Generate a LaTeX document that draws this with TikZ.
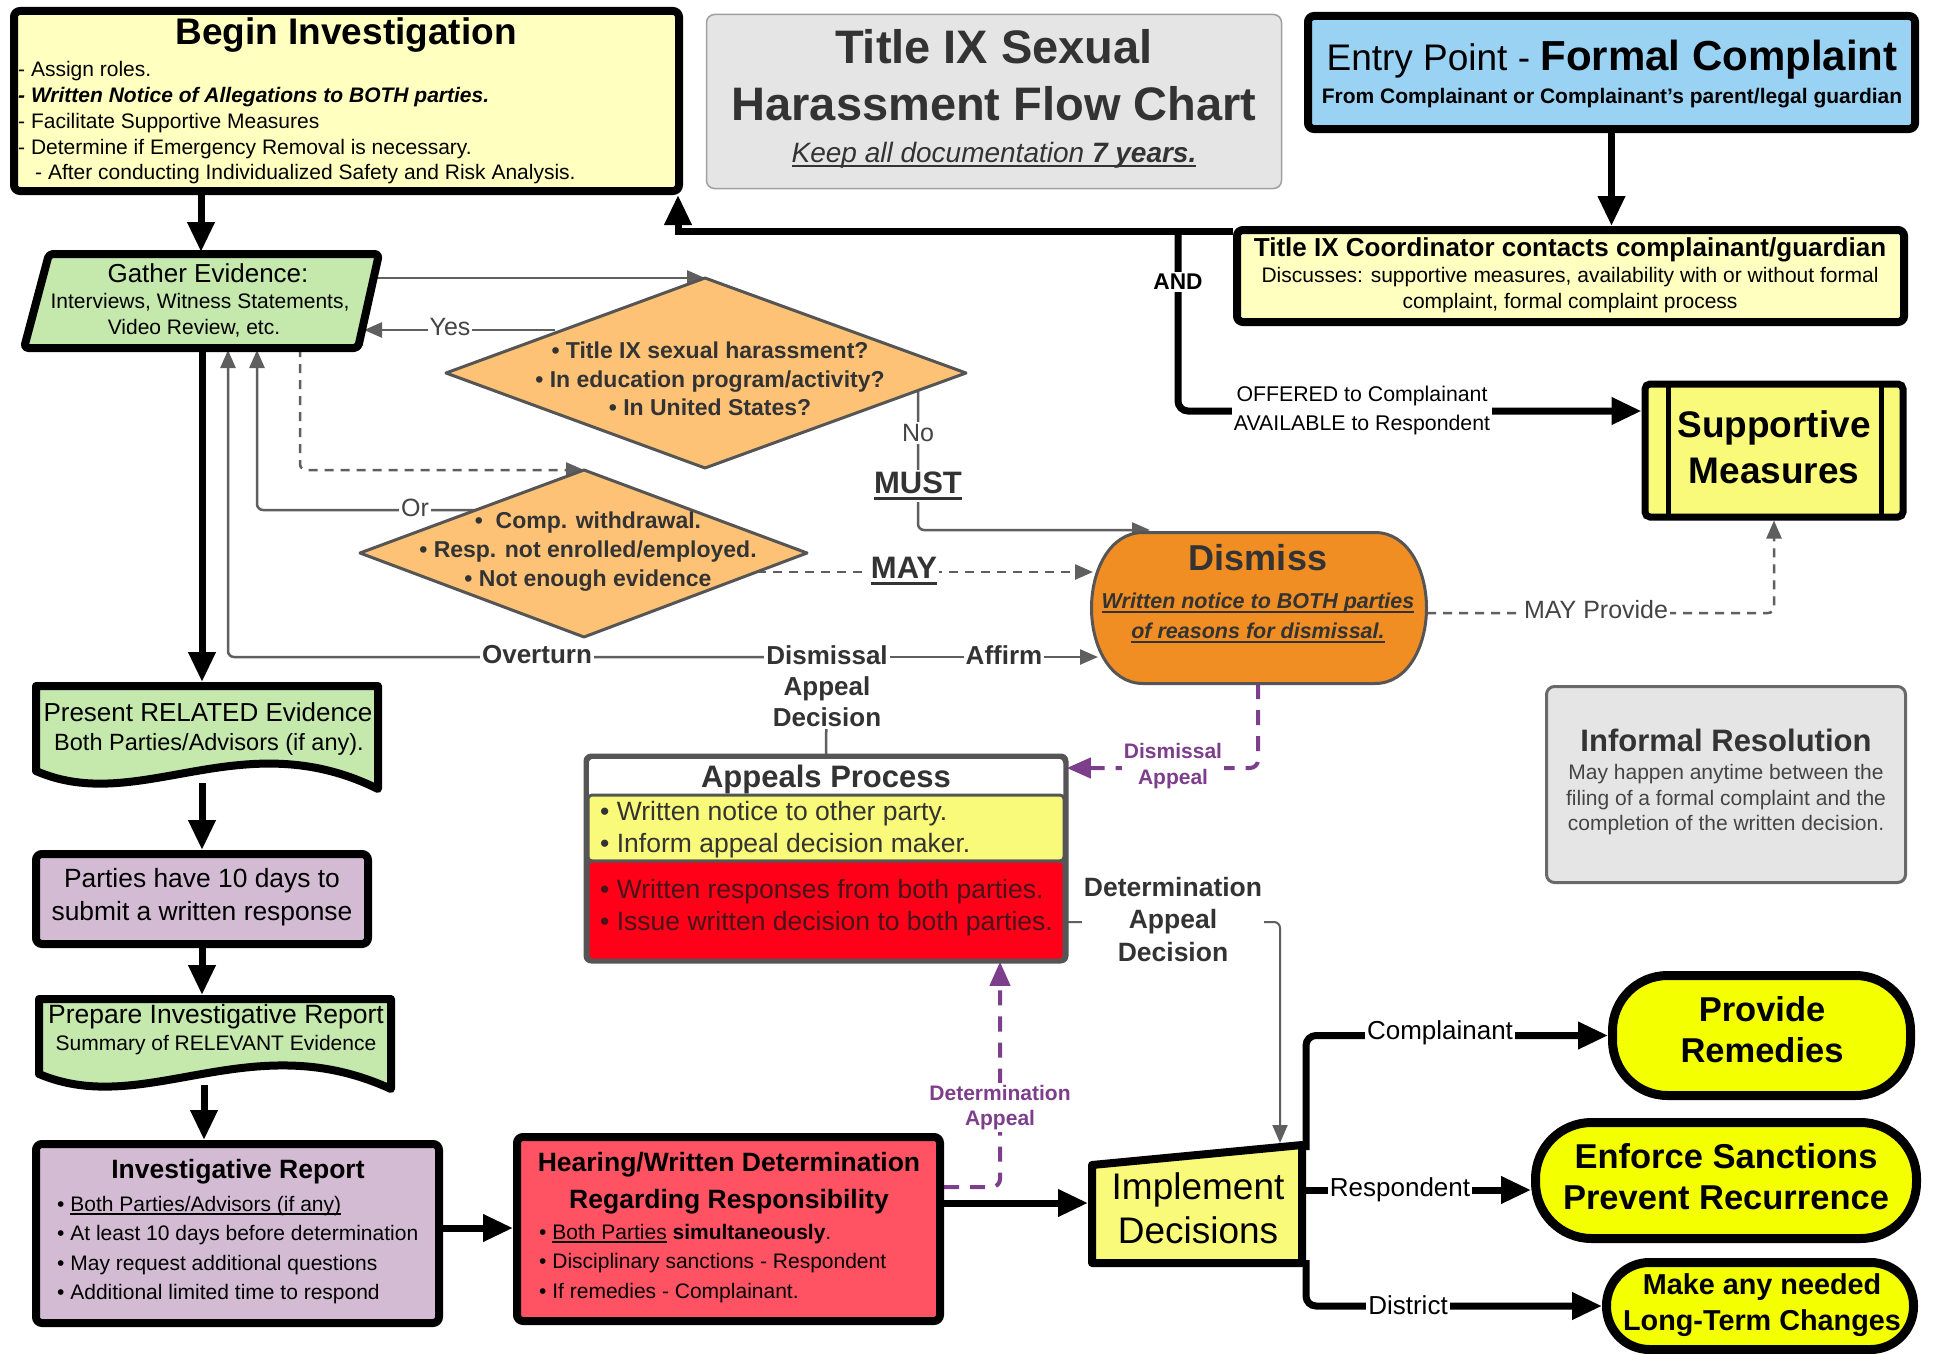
\documentclass[tikz,border=0pt]{standalone}
\usepackage{fontspec}
\setmainfont{Liberation Sans}
\usetikzlibrary{arrows.meta}
\definecolor{byellow}{RGB}{255,255,192}
\definecolor{tgray}{RGB}{229,229,229}
\definecolor{tborder}{RGB}{160,160,160}
\definecolor{eblue}{RGB}{153,210,243}
\definecolor{lgreen}{RGB}{197,232,173}
\definecolor{dorange}{RGB}{253,194,117}
\definecolor{dorg}{RGB}{240,141,35}
\definecolor{lyellow}{RGB}{250,250,122}
\definecolor{ared}{RGB}{255,0,24}
\definecolor{hred}{RGB}{255,82,99}
\definecolor{lav}{RGB}{211,188,211}
\definecolor{byel}{RGB}{244,255,0}
\definecolor{purp}{RGB}{125,62,140}
\definecolor{gline}{RGB}{95,95,95}
\definecolor{dgray}{RGB}{85,85,85}
\definecolor{igray}{RGB}{105,105,105}
\definecolor{dtext}{RGB}{51,51,51}
\definecolor{itext}{RGB}{68,68,68}
\definecolor{rtext}{RGB}{70,20,25}
\newcommand\fsz[2]{\fontsize{#1}{#2}\selectfont}
\newsavebox\myulbox
\newcommand\myul[2]{\leavevmode\sbox\myulbox{#2}\rlap{\rule[\dimexpr-0.09em-#1\relax]{\wd\myulbox}{#1}}\usebox\myulbox}
\pgfdeclarelayer{back}
\pgfdeclarelayer{bg}
\pgfsetlayers{back,bg,main}
\tikzset{
  boxk/.style={draw=black, line width=8pt, rounded corners=6pt, inner sep=0pt},
  txt/.style={inner sep=0pt, align=center},
  shp/.style={line width=8pt, line join=round},
  thk/.style={line width=7pt, -{Triangle[length=30pt,width=26pt]}},
  gar/.style={draw=gline, line width=2.5pt, -{Triangle[length=18pt,width=15pt]}},
  gdash/.style={gar, dash pattern=on 9pt off 7pt},
  parr/.style={draw=purp, line width=4pt, dash pattern=on 15pt off 11pt, -{Triangle[length=24pt,width=20pt]}},
  lab/.style={fill=white, inner sep=2pt, align=center},
}
\begin{document}
\begin{tikzpicture}[x=1pt,y=-1pt]
\begin{pgfonlayer}{back}
\fill[white] (0,0) rectangle (1935,1354);
\end{pgfonlayer}
\useasboundingbox (0,0) rectangle (1935,1354);

% ---------- Begin Investigation
\node[boxk, fill=byellow, minimum width=665pt, minimum height=180pt] (begin) at (346.5,101) {};
\node[txt, font=\bfseries\fsz{37}{40}] (beginT) at (346,35) {Begin Investigation};
\node[txt, align=left, anchor=west, font=\fsz{21}{25.75}] (beginB) at (18,123)
 {- Assign roles.\\ \textbf{\textit{- Written Notice of Allegations to BOTH parties.}}\\ - Facilitate Supportive Measures\\ - Determine if Emergency Removal is necessary.\\ \hspace*{17pt}- After conducting Individualized Safety and Risk Analysis.};

% ---------- Title
\node[draw=tborder, line width=1.5pt, fill=tgray, rounded corners=8pt, minimum width=575pt, minimum height=174pt] (title) at (994,101.5) {};
\node[txt, text=dtext, font=\bfseries\fsz{47}{57}] (titleT) at (994,75.5) {Title IX Sexual\\Harassment Flow Chart};
\node[txt, text=dtext, font=\itshape\fsz{28}{32}] (titleK) at (994,155) {\myul{2.2pt}{Keep all documentation \textbf{7 years.}}};

% ---------- Entry point
\node[boxk, fill=eblue, minimum width=607pt, minimum height=113pt] (entry) at (1611.5,72.5) {};
\node[txt, font=\fsz{37}{40}] (entryT) at (1612,60) {Entry Point - \textbf{\fsz{42}{44}Formal Complaint}};
\node[txt, font=\bfseries\fsz{21}{24}] (entryS) at (1612,98.5) {From Complainant or Complainant's parent/legal guardian};

% ---------- Coordinator
\node[boxk, fill=byellow, minimum width=667pt, minimum height=92pt] (coord) at (1570.5,276) {};
\node[txt, font=\bfseries\fsz{26}{30}] (coordT) at (1570,249.5) {Title IX Coordinator contacts complainant/guardian};
\node[txt, font=\fsz{21}{26}] (coordB) at (1570,290.5) {Discusses: supportive measures, availability with or without formal\\complaint, formal complaint process};

% ---------- Supportive measures
\node[boxk, line width=7pt, fill=lyellow, rounded corners=5pt, minimum width=258pt, minimum height=133pt] (supp) at (1774,450.5) {};
\draw[line width=5pt] (1668,384) -- (1668,517) (1881,384) -- (1881,517);
\node[txt, font=\bfseries\fsz{37}{46}] (suppT) at (1774,447) {Supportive\\Measures};

% ---------- Gather evidence (parallelogram)
\draw[shp, fill=lgreen, rounded corners=4pt] (49,254) -- (379,254) -- (358,348) -- (24,348) -- cycle;
\node[txt, font=\fsz{26}{30}] (g1) at (208,273) {Gather Evidence:};
\node[txt, font=\fsz{21}{24}] (g2) at (200,302) {Interviews, Witness Statements,};
\node[txt, font=\fsz{21}{24}] (g3) at (194,328) {Video Review, etc.};

% ---------- Diamonds
\draw[line width=3pt, draw=dgray, fill=dorange, line join=round] (446,373) -- (705,278) -- (966,373) -- (705,468) -- cycle;
\node[txt, text=dtext, font=\bfseries\fsz{23}{28.5}] (d1) at (710,379) {• Title IX sexual harassment?\\• In education program/activity?\\• In United States?};
\draw[line width=3pt, draw=dgray, fill=dorange, line join=round] (360,553) -- (584,470) -- (807,553) -- (584,637) -- cycle;
\node[txt, text=dtext, font=\bfseries\fsz{23}{29}] (d2) at (588,552) {•\ \ Comp. withdrawal.\\• Resp. not enrolled/employed.\\• Not enough evidence};

% ---------- Dismiss
\draw[line width=3pt, draw=dgray, fill=dorg] (1143,532.5) -- (1375,532.5)
  .. controls (1408,532.5) and (1426.5,570) .. (1426.5,608)
  .. controls (1426.5,646) and (1408,683.5) .. (1375,683.5) -- (1143,683.5)
  .. controls (1110,683.5) and (1091.5,646) .. (1091.5,608)
  .. controls (1091.5,570) and (1110,532.5) .. (1143,532.5) -- cycle;
\node[txt, text=dtext, font=\bfseries\fsz{36}{40}] (disT) at (1258,558) {Dismiss};
\node[txt, text=dtext, font=\bfseries\itshape\fsz{21.5}{30}] (disB) at (1258,618) {\myul{2pt}{Written notice to BOTH parties}\\\myul{2pt}{of reasons for dismissal.}};

% ---------- Informal resolution
\node[draw=igray, line width=3pt, fill=tgray, rounded corners=8pt, minimum width=359pt, minimum height=196pt] (inf) at (1726,784.5) {};
\node[txt, text=dtext, font=\bfseries\fsz{31}{34}] (infT) at (1726,740) {Informal Resolution};
\node[txt, text=itext, font=\fsz{21}{25.5}] (infB) at (1726,800) {May happen anytime between the\\filing of a formal complaint and the\\completion of the written decision.};

% ---------- Appeals process
\node[draw=dgray, line width=3.5pt, fill=white, rounded corners=6pt, minimum width=478pt, minimum height=203pt] (app) at (826,858.5) {};
\node[draw=dgray, line width=3pt, fill=lyellow, rounded corners=4pt, minimum width=476pt, minimum height=66pt] (appY) at (826,828) {};
\node[draw=dgray, line width=3pt, fill=ared, rounded corners=4pt, minimum width=476pt, minimum height=99pt] (appR) at (826,910.5) {};
\draw[draw=dgray, line width=3.5pt, rounded corners=6pt] (app.north west) rectangle (app.south east);
\node[txt, text=dtext, font=\bfseries\fsz{31}{34}] (appT) at (826,779) {Appeals Process};
\node[txt, align=left, anchor=west, text=dtext, font=\fsz{26.5}{32}] (appYt) at (600,830) {• Written notice to other party.\\• Inform appeal decision maker.};
\node[txt, align=left, anchor=west, text=rtext, font=\fsz{26.5}{32}] (appRt) at (600,908) {• Written responses from both parties.\\• Issue written decision to both parties.};

% ---------- Present related evidence (document)
\draw[shp, fill=lgreen] (36,771) -- (36,686) -- (378,686) -- (378,789) .. controls (241,721) and (139,816) .. (36,771) -- cycle;
\node[txt, font=\fsz{26}{30}] (presT) at (208,712) {Present RELATED Evidence};
\node[txt, font=\fsz{23.5}{27}] (presS) at (209,744) {Both Parties/Advisors (if any).};

% ---------- Parties have 10 days
\node[boxk, fill=lav, minimum width=332pt, minimum height=90pt] (parties) at (202,899) {};
\node[txt, font=\fsz{26.4}{33}] (partiesT) at (202,897.5) {Parties have 10 days to\\submit a written response};

% ---------- Prepare investigative report (document)
\draw[shp, fill=lgreen] (39,1074) -- (39,999) -- (391,999) -- (391,1089) .. controls (250,1024) and (145,1119) .. (39,1074) -- cycle;
\node[txt, font=\fsz{26.5}{30}] (prepT) at (216,1017) {Prepare Investigative Report};
\node[txt, font=\fsz{21}{24}] (prepS) at (216,1045) {Summary of RELEVANT Evidence};

% ---------- Investigative report
\node[boxk, fill=lav, minimum width=403pt, minimum height=179pt] (inv) at (237.5,1233.5) {};
\node[txt, font=\bfseries\fsz{26.5}{30}] (invT) at (238,1172) {Investigative Report};
\node[txt, align=left, anchor=west, font=\fsz{21}{29.3}] (invB) at (57,1250) {• \myul{1.5pt}{Both Parties/Advisors (if any)}\\• At least 10 days before determination\\• May request additional questions\\• Additional limited time to respond};

% ---------- Hearing
\node[boxk, fill=hred, minimum width=423pt, minimum height=184pt] (hear) at (728.5,1229) {};
\node[txt, font=\bfseries\fsz{26.5}{37}] (hearT) at (729,1183) {Hearing/Written Determination\\Regarding Responsibility};
\node[txt, align=left, anchor=west, font=\fsz{21}{29.5}] (hearB) at (539,1263.5) {• \myul{1.5pt}{Both Parties} \textbf{simultaneously}.\\• Disciplinary sanctions - Respondent\\• If remedies - Complainant.};

% ---------- Implement decisions (manual input)
\draw[shp, fill=lyellow] (1092,1165) -- (1302,1145) -- (1302,1263) -- (1092,1263) -- cycle;
\node[txt, font=\fsz{37}{44}] (imp) at (1198,1208) {Implement\\Decisions};

% ---------- Outcome terminators
\node[boxk, line width=9pt, fill=byel, rounded corners=55pt, minimum width=298pt, minimum height=120pt] (prov) at (1761.5,1035.5) {};
\node[txt, font=\bfseries\fsz{34.5}{41}] (provT) at (1762,1030) {Provide\\Remedies};
\node[boxk, line width=9pt, fill=byel, rounded corners=56pt, minimum width=381pt, minimum height=116pt] (enf) at (1726,1180.5) {};
\node[txt, font=\bfseries\fsz{34.5}{41}] (enfT) at (1726,1176.5) {Enforce Sanctions\\Prevent Recurrence};
\node[boxk, line width=9pt, fill=byel, rounded corners=43pt, minimum width=307pt, minimum height=87pt] (make) at (1760,1306) {};
\node[txt, font=\bfseries\fsz{28.8}{36}] (makeT) at (1762,1305.5) {Make any needed\\Long-Term Changes};

% ---------- named points on shapes
\coordinate (gTop) at (201,252);
\coordinate (gBot) at (202,348);
\coordinate (gRt) at (377,278);
\coordinate (gYes) at (364,330);
\coordinate (gOr) at (257,350);
\coordinate (gOv) at (228,350);
\coordinate (gDash) at (300,348);
\coordinate (d1Top) at (705,278);
\coordinate (d1Yes) at (555,330);
\coordinate (d1No) at (918,391);
\coordinate (d2Top) at (584,470);
\coordinate (d2Or) at (476,510);
\coordinate (d2May) at (757,572);
\coordinate (disTL) at (1150,530);
\coordinate (disL) at (1093,572);
\coordinate (disAff) at (1098,657);
\coordinate (disR) at (1427,613);
\coordinate (disBot) at (1258,684);
\coordinate (presTop) at (202,682);
\coordinate (presBot) at (202,783);
\coordinate (prepTop) at (202,995);
\coordinate (prepBot) at (204,1085);
\coordinate (impL) at (1088,1203);
\coordinate (impTop) at (1280,1143);
\coordinate (impTR) at (1306,1150);
\coordinate (impR) at (1306,1190);
\coordinate (impBR) at (1306,1260);
\coordinate (ovJ) at (827,657);
\coordinate (andTop) at (1178,231);
\coordinate (cL) at (0,231);
\coordinate (bR) at (678,0);
\coordinate (sY) at (0,411);
\coordinate (ihY) at (0,1228);
\coordinate (hiY) at (0,1203);
\coordinate (dY) at (0,922);
\coordinate (pY) at (0,768);
\coordinate (hY) at (0,1187);
\coordinate (pX) at (1000,0);

% ---------- connectors
\begin{pgfonlayer}{bg}
% thick black
\draw[thk] (begin.south -| gTop) -- (gTop);
\draw[thk] (gBot) -- (presTop);
\draw[thk] (presBot) -- (parties.north);
\draw[thk] (parties.south) -- (prepTop);
\draw[thk] (prepBot) -- (inv.north -| prepBot);
\draw[thk] (inv.east |- ihY) -- (hear.west |- ihY);
\draw[thk] (hear.east |- hiY) -- (impL);
\draw[thk] (entry.south) -- (coord.north -| entry.south);
\draw[thk] (coord.west |- cL) -| (begin.south -| bR);
\draw[thk, rounded corners=10pt] (andTop) |- (supp.west |- sY);
\draw[thk, rounded corners=10pt] (impTR) |- (prov.west);
\draw[thk] (impR) -- (enf.west |- impR);
\draw[thk, rounded corners=10pt] (impBR) |- (make.west);
\node[lab, font=\bfseries\fsz{22.7}{26}] (lAnd) at (1178,282) {AND};
\node[lab, font=\fsz{21.3}{28.5}] (lOff) at (1362,410.5) {OFFERED to Complainant\\AVAILABLE to Respondent};
\node[lab, font=\fsz{26}{28}] (lC) at (1440,1033) {Complainant};
\node[lab, font=\fsz{26}{28}] (lR) at (1400,1190) {Respondent};
\node[lab, font=\fsz{26}{28}] (lD) at (1408,1305) {District};

% gray
\draw[gar] (gRt) -- (d1Top);
\draw[gar] (d1Yes) -- (gYes);
\draw[gar, rounded corners=6pt] (d1No) |- (disTL);
\draw[gdash, rounded corners=6pt] (gDash) |- (d2Top);
\draw[gar, rounded corners=6pt] (d2Or) -| (gOr);
\draw[gdash] (d2May) -- (disL);
\draw[gar, rounded corners=6pt] (app.north) -- (ovJ) -| (gOv);
\draw[gar] (ovJ) -- (disAff);
\draw[gdash, rounded corners=6pt] (disR) -| (supp.south);
\draw[gar, line width=2pt, rounded corners=6pt] (app.east |- dY) -| (impTop);
\node[lab, text=itext, font=\fsz{25}{28}] (lYes) at (450,327) {Yes};
\node[lab, text=itext, font=\fsz{25}{28}] (lNo) at (918,433) {No};
\node[lab, text=dtext, font=\bfseries\fsz{31}{34}] (lMust) at (918,486) {\myul{3pt}{MUST}};
\node[lab, text=itext, font=\fsz{25}{28}] (lOr) at (415,508) {Or};
\node[lab, text=dtext, font=\bfseries\fsz{31}{34}] (lMay) at (904,571) {\myul{3pt}{MAY}};
\node[lab, text=dtext, font=\bfseries\fsz{26}{31}] (lOver) at (537,655) {Overturn};
\node[lab, text=dtext, font=\bfseries\fsz{26}{31}] (lDad) at (827,686.5) {Dismissal\\Appeal\\Decision};
\node[lab, text=dtext, font=\bfseries\fsz{26}{31}] (lAff) at (1004,655) {Affirm};
\node[lab, text=itext, font=\fsz{25}{28}] (lMayP) at (1596,610) {MAY Provide};
\node[lab, text=dtext, font=\bfseries\fsz{26.5}{32.5}] (lDetd) at (1173,919.5) {Determination\\Appeal\\Decision};

% purple
\draw[parr, rounded corners=8pt] (disBot) |- (app.east |- pY);
\draw[parr, rounded corners=8pt] (hear.east |- hY) -| (app.south -| pX);
\node[lab, text=purp, font=\bfseries\fsz{21}{26}] (lDA) at (1173,766) {Dismissal\\Appeal};
\node[lab, text=purp, font=\bfseries\fsz{21}{25}] (lDetA) at (1000,1107.5) {Determination\\Appeal};
\end{pgfonlayer}
\end{tikzpicture}
\end{document}
